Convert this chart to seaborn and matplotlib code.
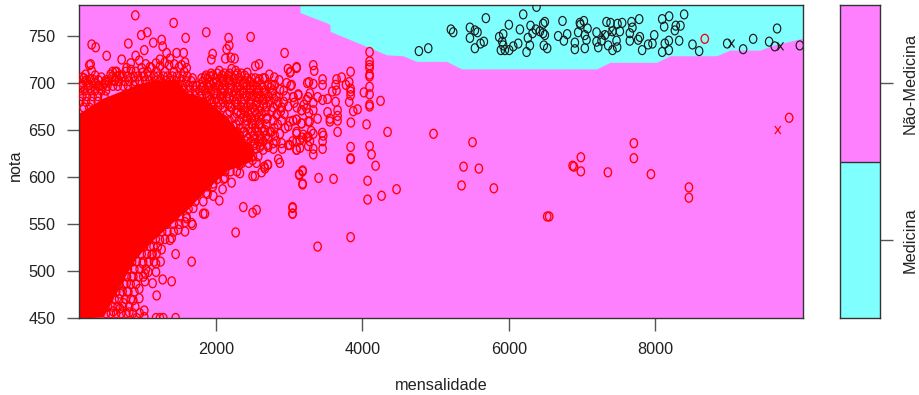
import numpy as np
import pandas as pd
import matplotlib
matplotlib.use('Agg')
import matplotlib.pyplot as plt
import seaborn as sns
from matplotlib.colors import ListedColormap
from matplotlib.path import Path
from matplotlib.transforms import Affine2D

# Classes
levels = ['Não-Medicina', 'Medicina']
colour_nao = '#FF80FF'
colour_med = '#80FFFF'

# Lower edge of the Medicina region (mensalidade, nota)
boundary_x = [3147, 3147, 3512, 3557, 3557, 4332, 4554, 4741, 5151, 5356, 7200, 7382, 8020, 8202, 8840, 9021, 9431, 9609, 9978, 10020]
boundary_y = [783, 775, 764, 762, 755, 730, 729, 723, 723, 715, 715, 722, 722, 729, 729, 735, 735, 740, 747, 748]

# Where the red circles overlap completely
core_x = [128, 456, 784, 920, 1139, 1467, 1603, 1822, 2150, 2368, 2500]
core_low = [450, 451, 498, 515, 533, 556, 565, 583, 607, 613, 618]
core_high = [668, 684, 694, 699, 703, 703, 690, 685, 664, 642, 628]

# Nao-Medicina, classified correctly: spread to the right
red_right = [(6985, 621), (6985, 606), (6890, 611), (6872, 612), (7354, 605), (7709, 636), (7709, 620), (7942, 603),
             (8461, 589), (8461, 578), (9831, 663), (6525, 558), (6552, 558), (8678, 747),
             (4972, 646), (5505, 637), (5382, 611), (5592, 609), (5355, 591), (5796, 588),
             (4344, 648), (4248, 681), (4021, 690), (4098, 688), (4098, 696), (4098, 707), (4098, 709), (4098, 716),
             (4098, 719), (4098, 723), (4098, 733), (4098, 677), (4098, 675), (3934, 672), (3875, 670), (3843, 658),
             (4057, 656), (3661, 648), (3839, 632), (4098, 633), (4125, 624), (4180, 612), (3839, 619), (3839, 620),
             (4071, 596), (4071, 576), (4262, 580), (4467, 587), (3606, 598), (3402, 599), (3183, 607), (3137, 602),
             (3183, 592), (3839, 536), (3388, 526), (3046, 568), (3046, 561)]

# Nao-Medicina around 3000-4000
red_middle = [(3329, 630), (3329, 624), (3456, 638), (3456, 630), (3465, 644), (3452, 647), (3101, 629), (3147, 631),
              (3260, 633), (3283, 638), (3301, 649), (3329, 646), (3174, 642), (3238, 642), (3101, 646), (3101, 638),
              (3046, 638), (3010, 634), (3169, 657), (3101, 661), (3279, 659), (3388, 662), (3556, 662), (3556, 659),
              (3661, 671), (3661, 665), (3661, 660), (3524, 669), (3329, 671), (3270, 668), (3169, 671), (3238, 673),
              (3329, 679), (3201, 677), (3634, 680), (3820, 680), (3456, 682), (3524, 683), (3388, 685), (3283, 689),
              (3124, 688), (3069, 679), (3056, 685), (3588, 691), (3647, 692), (3839, 687), (3839, 691), (3839, 694),
              (3775, 698), (3820, 701), (3716, 706), (3647, 704), (3634, 698), (3456, 704), (3456, 698), (3329, 699),
              (3270, 701), (3019, 697), (3839, 712), (3342, 713), (3329, 719), (3101, 716), (3019, 712)]

# Upper edge of the main cloud
red_top = [(897, 772), (1421, 764), (979, 751), (1061, 754), (802, 742), (1143, 743), (1257, 746), (1585, 748),
           (1867, 754), (2172, 748), (2473, 749), (2181, 740), (2145, 736), (301, 741), (356, 738), (506, 729),
           (711, 725), (1020, 735), (902, 729), (1271, 739), (1325, 732), (1462, 732), (1558, 732), (1954, 731),
           (1936, 725), (2127, 726), (2204, 727), (2254, 726), (2937, 732), (3101, 717), (2983, 715), (3010, 711),
           (2537, 718), (2587, 720), (2427, 711), (2728, 709), (2796, 706), (2864, 703),
           (269, 719), (287, 720), (301, 713), (196, 705), (233, 703), (333, 703), (392, 703), (483, 701),
           (588, 712), (642, 712), (620, 703), (779, 716), (834, 721), (952, 724), (984, 716), (1098, 717),
           (1234, 725), (1371, 726), (1576, 722), (1599, 716), (1680, 705), (1735, 697), (1849, 706), (1917, 707),
           (2045, 713), (2213, 715), (2268, 713), (2190, 703), (2373, 700), (2486, 705), (2591, 704), (2668, 705),
           (2760, 698), (2873, 693), (2965, 700), (3033, 698), (3124, 687), (3247, 700), (3260, 685),
           (560, 709), (688, 708), (838, 714), (996, 711), (1118, 716), (1236, 718), (1358, 719), (1497, 717),
           (1040, 720), (1180, 721), (1300, 722), (1430, 720), (1530, 719),
           (172, 706), (218, 709), (283, 704), (348, 708), (433, 706), (497, 703),
           (151, 699), (212, 702), (268, 698), (344, 700), (406, 697), (474, 699)]

# Right side of the main cloud
red_side = [(2646, 682), (2851, 680), (2987, 675), (3056, 685), (3169, 671), (3238, 682), (2691, 675), (2760, 670),
            (2828, 666), (2691, 662), (2600, 657), (2668, 650), (2737, 648), (2873, 646), (3010, 659), (3101, 661),
            (3169, 657), (3260, 659), (2987, 654), (3101, 648), (3192, 645), (3260, 643), (3147, 639), (3101, 629),
            (2896, 636), (2987, 634), (2782, 636), (2714, 632), (2646, 629), (2600, 632), (2532, 636), (2464, 627),
            (2500, 618), (2851, 619), (2873, 615), (2705, 613), (2659, 611),
            (1826, 696), (1963, 700), (2099, 703), (2282, 696), (2373, 689), (2464, 693), (2555, 685), (2532, 671),
            (2418, 664), (2486, 657), (2373, 648), (2327, 639), (2418, 632), (2282, 629), (2145, 685), (2008, 689),
            (1917, 682), (2190, 675), (2282, 668), (2099, 661), (1963, 671), (2145, 646), (2236, 654), (2282, 646),
            (2373, 622), (2304, 615), (2464, 625)]

# Lower edge of the main cloud
red_low = [(2373, 568), (2500, 562), (2555, 565), (3046, 567), (3046, 561), (2268, 541), (3183, 606), (3137, 603),
           (3183, 593), (2623, 605), (2668, 609), (2710, 613), (2500, 601), (2532, 601), (2327, 604), (2213, 594),
           (2090, 587), (2045, 575), (1963, 580), (1826, 561), (1849, 561), (1680, 549), (1576, 542), (1394, 535),
           (1448, 518), (1667, 510), (1394, 489), (1271, 491), (1189, 474), (1134, 487), (1029, 489), (952, 481),
           (952, 471), (870, 469), (802, 478), (1020, 458), (815, 456), (1020, 451), (1180, 450), (1280, 450),
           (1448, 450), (916, 450), (1234, 450),
           (1243, 510), (1180, 508), (1180, 499), (1029, 497), (1075, 499), (1257, 523), (1189, 519), (1120, 517),
           (1371, 533), (1485, 544), (1599, 556), (1690, 567), (1826, 574), (1863, 583), (1963, 593), (2122, 599),
           (2318, 613), (1576, 552), (1667, 551), (870, 494), (779, 487), (688, 476), (733, 466), (597, 457),
           (688, 460), (998, 508), (1098, 526), (1234, 533)]

# Dense parts, read roughly as rows: nota -> mensalidade values
rows_upper = {712: [625, 765, 905, 1064, 1187, 1304, 1426, 1566],
              707: [584, 647, 724, 796, 873, 936, 1012, 1077, 1153, 1206, 1284, 1337, 1405, 1466, 1544, 1608],
              702: [537, 613, 676, 754, 817, 893, 957, 1034, 1096, 1174, 1237, 1313, 1376, 1454, 1516, 1593, 1662],
              697: [183, 247, 323, 386, 453, 516, 594, 657, 733, 797, 874, 1483, 1547, 1624, 1687],
              692: [143, 207, 284, 347, 434, 496, 1563, 1637, 1714, 1776],
              686: [172, 236, 313, 387, 474, 1643, 1716, 1804, 1877],
              680: [144, 223, 297, 384, 1703, 1786, 1874, 1947],
              674: [193, 267, 1774, 1857, 1953, 2027]}
rows_right = {710: [1933, 2017, 2114, 2186, 2293, 2347],
              708: [1863, 1957, 2083, 2168, 2264, 2391],
              705: [1803, 1884, 1987, 2063, 2148, 2243, 2316, 2424, 2537, 2643],
              701: [1817, 1913, 2006, 2093, 2176, 2273, 2387, 2473, 2568],
              698: [1778, 1884, 1927, 2043, 2116, 2213, 2327, 2424, 2507, 2624, 2706, 2803],
              695: [1804, 1896, 1993, 2087, 2193, 2287, 2384, 2466, 2563, 2637, 2744],
              692: [1853, 1936, 2064, 2117, 2253, 2326, 2513, 2587, 2664, 2776, 2924],
              689: [1863, 1977, 2094, 2173, 2276, 2374, 2457, 2564, 2656, 2773],
              686: [1904, 2057, 2234, 2306, 2423, 2497, 2613, 2716, 2824, 2956],
              683: [1994, 2076, 2184, 2287, 2383, 2486, 2593, 2677, 2794],
              680: [2033, 2097, 2264, 2346, 2453, 2557, 2723, 2926],
              677: [2064, 2167, 2293, 2377, 2474, 2546, 2654, 2833],
              674: [2103, 2216, 2344, 2417, 2503, 2596, 2784, 2897, 3104],
              670: [2184, 2297, 2393, 2467, 2594, 2676, 2884],
              667: [1996, 2154, 2337, 2444, 2556, 2623, 2837, 2934],
              663: [2253, 2376, 2484, 2587, 2703],
              660: [2184, 2316, 2424, 2537, 2783, 2896, 3053],
              656: [2277, 2403, 2496, 2583, 2687, 2843],
              652: [2203, 2337, 2454, 2536, 2624, 2797, 2944],
              648: [2284, 2387, 2493, 2567, 2653, 2757],
              644: [2197, 2324, 2417, 2524, 2606, 2684, 2803],
              641: [2434, 2527, 2603, 2717],
              638: [2404, 2477, 2584, 2646, 2824],
              634: [2523, 2607, 2704],
              630: [2453, 2546, 2784, 2903],
              622: [2397, 2504, 2577],
              615: [2354, 2446, 2553]}
rows_lower = {455: [497, 563, 636, 704, 776, 864, 957],
              462: [523, 587, 654, 727, 813, 896],
              470: [537, 614, 676, 764, 836],
              478: [563, 637, 724, 786, 884],
              486: [587, 673, 746, 834, 907],
              494: [634, 697, 784, 846, 944, 1007],
              502: [657, 733, 796, 884, 957, 1043],
              510: [704, 766, 854, 917, 1004, 1076, 1153],
              518: [757, 834, 896, 984, 1057, 1134],
              526: [804, 876, 954, 1016, 1147, 1204],
              534: [857, 934, 997, 1083, 1176, 1304],
              542: [934, 1006, 1094, 1167, 1264, 1336, 1423],
              550: [997, 1084, 1156, 1244, 1327, 1424, 1497],
              558: [1104, 1176, 1264, 1337, 1434, 1506, 1594],
              566: [1197, 1284, 1366, 1454, 1527, 1624],
              574: [1304, 1386, 1474, 1556, 1644, 1716],
              582: [1417, 1514, 1586, 1684, 1746, 1884],
              590: [1544, 1617, 1714, 1786, 1884, 1957],
              598: [1647, 1744, 1826, 1914, 2017, 2104],
              606: [1784, 1856, 1954, 2036, 2124, 2197, 2284]}

# Medicina, classified correctly
black_o = [(6379, 781), (5687, 769), (6197, 773), (6734, 766), (8396, 773), (8191, 771), (8096, 768), (7782, 768),
           (7677, 765), (7549, 764), (7486, 763), (7335, 765), (7390, 764), (7026, 766), (6971, 764), (6980, 762),
           (6493, 765), (6470, 763), (6001, 762), (6297, 761), (5469, 759), (5209, 757), (5241, 754), (5537, 756),
           (5573, 754), (6152, 757), (6370, 757), (6425, 755), (6325, 753), (6470, 753), (6493, 751), (5924, 752),
           (5869, 749), (6261, 748), (6675, 750), (6798, 752), (6753, 745), (6948, 754), (7076, 758), (7039, 751),
           (7062, 746), (7199, 754), (7313, 751), (7417, 755), (7518, 755), (7654, 753), (7690, 759), (8123, 760),
           (8282, 761), (8346, 761), (8269, 756), (8328, 745), (7987, 751), (7791, 749), (7768, 746), (7654, 745),
           (7472, 745), (7267, 745), (7199, 744), (6903, 743), (5469, 748), (5660, 744), (5614, 742), (5537, 737),
           (5910, 744), (5924, 740), (5892, 735), (5947, 735), (6006, 735), (6061, 739), (6129, 742), (6288, 740),
           (6243, 733), (6479, 740), (6525, 737), (6903, 736), (7039, 737), (7222, 738), (7358, 740), (7417, 735),
           (7481, 738), (7822, 735), (7904, 741), (7963, 742), (8132, 742), (8187, 745), (8096, 733), (8187, 735),
           (8510, 741), (8601, 734), (4772, 734), (4900, 737), (9339, 747), (9202, 736), (9666, 758), (9557, 744),
           (9634, 739), (9976, 740), (8984, 742)]

# Support vectors drawn as x
black_x = [(9043, 742), (9712, 739), (7290, 751), (7404, 754)]
red_x = [(9676, 650)]

red_o = red_right + red_middle + red_top + red_side + red_low
for rows in [rows_upper, rows_right, rows_lower]:
    for nota, values in rows.items():
        red_o = red_o + [(m, nota) for m in values]

dfRed = pd.DataFrame(red_o, columns=['mensalidade', 'nota'])
dfBlack = pd.DataFrame(black_o, columns=['mensalidade', 'nota'])
dfBlackX = pd.DataFrame(black_x, columns=['mensalidade', 'nota'])
dfRedX = pd.DataFrame(red_x, columns=['mensalidade', 'nota'])

plt.rcParams['font.family'] = ['Liberation Sans', 'DejaVu Sans']
text_size = 11.7

fig = plt.figure(figsize=(9.2, 3.95), dpi=100)
ax = fig.add_axes([79 / 920, 1 - 318 / 395, 724 / 920, 313 / 395])
axLegend = fig.add_axes([840 / 920, 1 - 318 / 395, 40 / 920, 313 / 395])

# Decision regions
ax.set_facecolor(colour_nao)
ax.fill_between(boundary_x, boundary_y, 783, color=colour_med, lw=0, zorder=1)
ax.fill_between(core_x, core_low, core_high, color='red', lw=0, zorder=2)

# The points are the letters o and x in the original, taller than wide
ring = Path.unit_circle().transformed(Affine2D().scale(0.82, 1))
cross = Path([(-0.75, -1), (0.75, 1), (-0.75, 1), (0.75, -1)],
             [Path.MOVETO, Path.LINETO, Path.MOVETO, Path.LINETO])
sns.scatterplot(data=dfRed, x='mensalidade', y='nota', marker=ring, s=42, facecolor='none',
                edgecolor='red', linewidth=0.95, ax=ax, zorder=3)
sns.scatterplot(data=dfBlack, x='mensalidade', y='nota', marker=ring, s=42, facecolor='none',
                edgecolor='#1a1a1a', linewidth=0.85, ax=ax, zorder=3)
sns.scatterplot(data=dfBlackX, x='mensalidade', y='nota', marker=cross, s=34, facecolor='none',
                edgecolor='#1a1a1a', linewidth=0.85, ax=ax, zorder=3)
sns.scatterplot(data=dfRedX, x='mensalidade', y='nota', marker=cross, s=34, facecolor='none',
                edgecolor='red', linewidth=0.85, ax=ax, zorder=3)

ax.set_xlim(128, 10020)
ax.set_ylim(450, 783)
ax.set_xticks([2000, 4000, 6000, 8000])
ax.set_yticks([450, 500, 550, 600, 650, 700, 750])
ax.tick_params(length=9, width=1, color='#555555', labelsize=text_size, labelcolor='#222222', pad=8)
ax.set_xlabel('')
ax.set_ylabel('')
fig.text(441 / 920, 1 - 386 / 395, 'mensalidade', ha='center', va='center', fontsize=text_size, color='#222222')
fig.text(15 / 920, 1 - 165 / 395, 'nota', ha='center', va='center', rotation=90, fontsize=text_size, color='#222222')
for spine in ax.spines.values():
    spine.set_color('#333333')
    spine.set_linewidth(1)

# Class key on the right
sns.heatmap(np.array([[1], [0]]), cmap=ListedColormap([colour_med, colour_nao]), cbar=False, ax=axLegend,
            linewidths=0, xticklabels=False)
axLegend.axhline(1, color='#333333', lw=1)
axLegend.yaxis.tick_right()
axLegend.set_yticks([0.5, 1.5])
axLegend.set_yticklabels(levels, rotation=90, va='center', fontsize=text_size, color='#222222')
axLegend.tick_params(axis='y', length=9, width=1, color='#555555', pad=7)
axLegend.tick_params(axis='x', length=0)
for spine in axLegend.spines.values():
    spine.set_visible(True)
    spine.set_color('#333333')
    spine.set_linewidth(1)

fig.savefig('out.png', dpi=100)
